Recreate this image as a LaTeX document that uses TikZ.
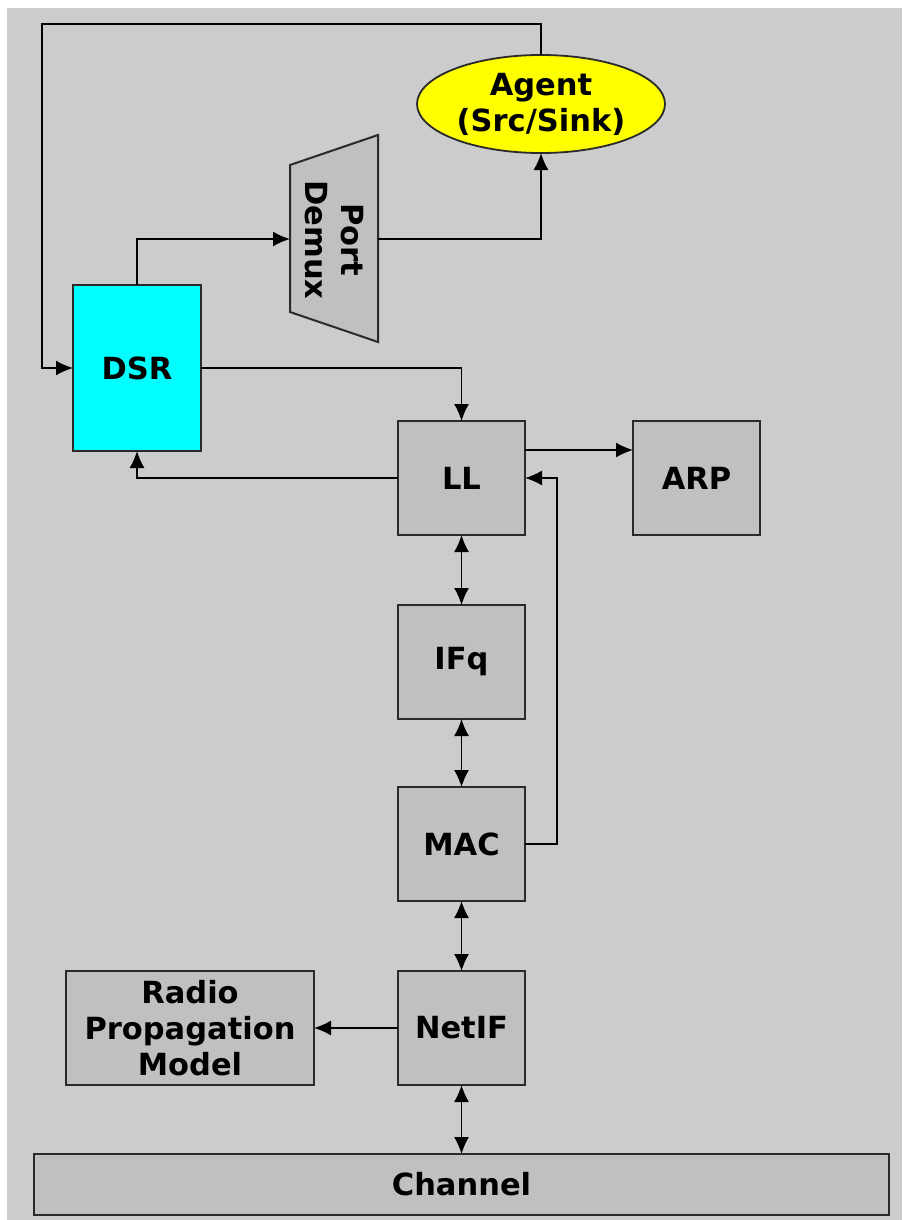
\documentclass[tikz,border=0pt]{standalone}
\usepackage{fontspec}
\setmainfont{DejaVu Sans}
\usetikzlibrary{arrows.meta,positioning,shapes.geometric}

\definecolor{bggray}{HTML}{CCCCCC}
\definecolor{boxgray}{HTML}{C0C0C0}
\definecolor{edgegray}{HTML}{2A2A2A}
\definecolor{dsrcyan}{HTML}{00FFFF}
\definecolor{agentyellow}{HTML}{FFFF00}

\begin{document}
\begin{tikzpicture}[
    x=1pt, y=-1pt,
    every node/.style={font=\bfseries\fontsize{30.5}{36}\selectfont, align=center, inner sep=0pt, outer sep=0pt},
    block/.style={rectangle, draw=edgegray, line width=2pt, fill=boxgray, minimum width=127pt, minimum height=114pt},
    arrow/.style={-{Latex[length=17pt,width=15pt]}, line width=1.5pt},
    darrow/.style={{Latex[length=17pt,width=15pt]}-{Latex[length=17pt,width=15pt]}, line width=1.5pt}
]
    \useasboundingbox (0,0) rectangle (902,1220);
    \fill[bggray] (7,8) rectangle (902,1220);

    % routing and transport side
    \node[block, fill=dsrcyan, minimum width=128pt, minimum height=166pt] (dsr) at (137,368) {DSR};
    \node[ellipse, draw=edgegray, line width=1.8pt, fill=agentyellow, minimum width=248pt, minimum height=98pt] (agent) at (541,104) {Agent\\(Src/Sink)};
    \draw[edgegray, line width=2pt, fill=boxgray] (290,165) -- (378,135) -- (378,342) -- (290,312) -- cycle;
    \node[rotate=-90] (demux) at (334,240) {Port\\Demux};
    \coordinate (demuxin) at (290,239);
    \coordinate (demuxout) at (378,239);
    \coordinate (loop) at (42,24);

    % the node stack
    \node[block] (ll) at (461.5,478) {LL};
    \node[block, right=108pt of ll] (arp) {ARP};
    \node[block, below=70pt of ll] (ifq) {IFq};
    \node[block, below=68pt of ifq] (mac) {MAC};
    \node[block, below=70pt of mac] (netif) {NetIF};
    \node[block, left=84pt of netif, minimum width=248pt] (radio) {Radio\\Propagation\\Model};
    \node[block, below=69pt of netif, minimum width=855pt, minimum height=61pt] (chan) {Channel};

    \draw[arrow] (dsr.north) |- (demuxin);
    \draw[arrow] (demuxout) -| (agent.south);
    \draw[arrow] (agent.north) |- (loop) |- (dsr.west);
    \draw[arrow] (dsr.east) -| (ll.north);
    \draw[arrow] (ll.west) -| (dsr.south);
    \draw[arrow] ([yshift=28pt]ll.east) -- ([yshift=28pt]arp.west);
    \draw[arrow] (mac.east) -- ++(32,0) |- (ll.east);
    \draw[darrow] (ll.south) -- (ifq.north);
    \draw[darrow] (ifq.south) -- (mac.north);
    \draw[darrow] (mac.south) -- (netif.north);
    \draw[darrow] (netif.south) -- (chan.north);
    \draw[arrow] (netif.west) -- (radio.east);
\end{tikzpicture}
\end{document}
